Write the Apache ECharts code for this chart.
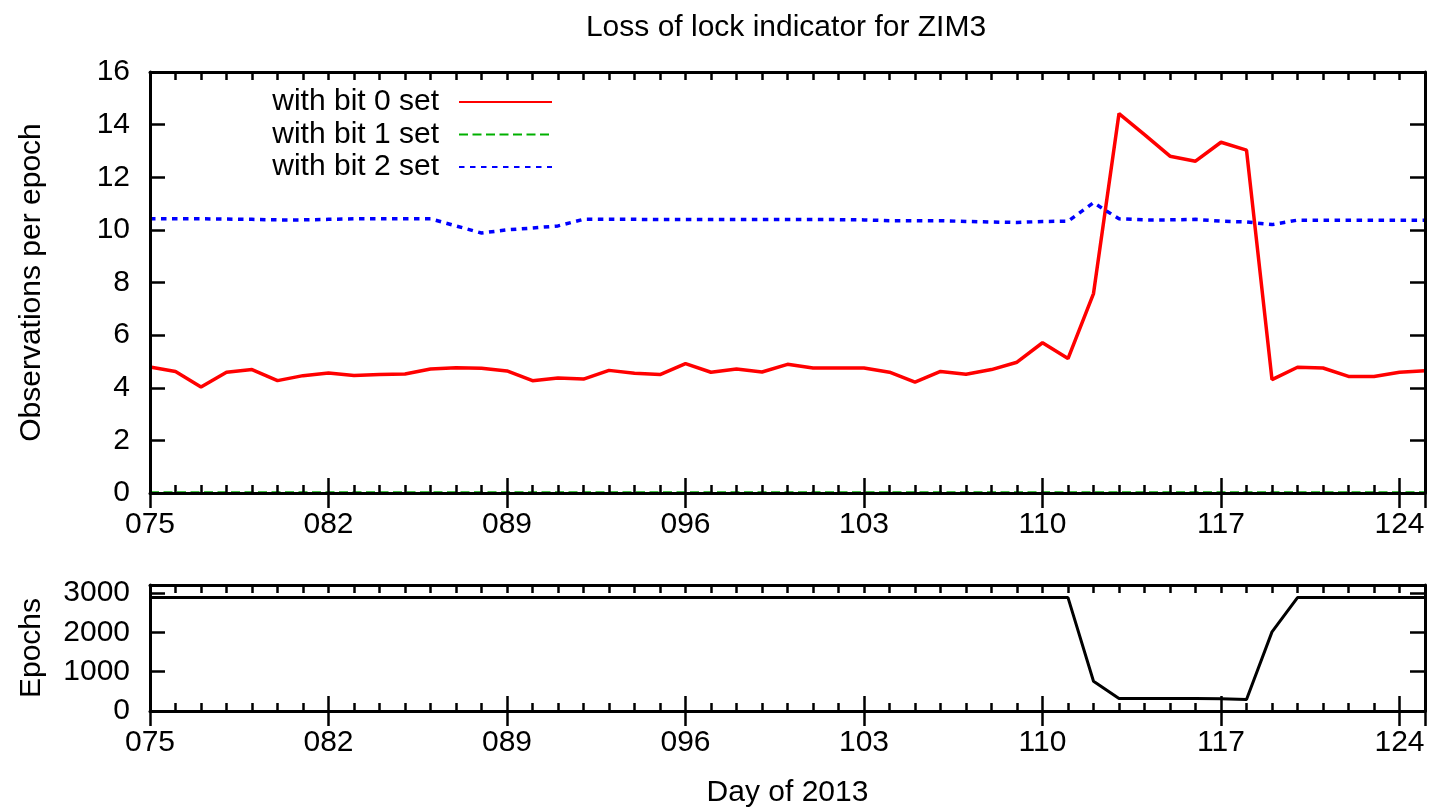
<!DOCTYPE html>
<html>
<head>
<meta charset="utf-8">
<script src="https://cdn.jsdelivr.net/npm/echarts@6/dist/echarts.min.js"></script>
<style>
  html, body { margin: 0; padding: 0; background: #ffffff; }
  #chart { width: 1433px; height: 807px; }
</style>
</head>
<body>
<div id="chart"></div>
<script>
// ---- data ----
const TITLE = 'Loss of lock indicator for ZIM3';
const X_NAME = 'Day of 2013';
const Y_NAME_TOP = 'Observations per epoch';
const Y_NAME_BOTTOM = 'Epochs';
const SERIES_NAMES = ['with bit 0 set', 'with bit 1 set', 'with bit 2 set'];

const DAYS = [75, 76, 77, 78, 79, 80, 81, 82, 83, 84,
              85, 86, 87, 88, 89, 90, 91, 92, 93, 94,
              95, 96, 97, 98, 99, 100, 101, 102, 103, 104,
              105, 106, 107, 108, 109, 110, 111, 112, 113, 114,
              115, 116, 117, 118, 119, 120, 121, 122, 123, 124, 125];

const BIT0 = [4.79, 4.62, 4.03, 4.59, 4.69, 4.27, 4.46, 4.56, 4.47, 4.50,
              4.52, 4.71, 4.76, 4.74, 4.64, 4.27, 4.37, 4.33, 4.66, 4.55,
              4.50, 4.92, 4.59, 4.71, 4.60, 4.89, 4.75, 4.75, 4.75, 4.59,
              4.21, 4.62, 4.51, 4.69, 4.97, 5.71, 5.11, 7.58, 14.42, 13.62,
              12.80, 12.61, 13.33, 13.03, 4.31, 4.78, 4.75, 4.43, 4.43, 4.59, 4.65];

const BIT1 = [0, 0, 0, 0, 0, 0, 0, 0, 0, 0,
              0, 0, 0, 0, 0, 0, 0, 0, 0, 0,
              0, 0, 0, 0, 0, 0, 0, 0, 0, 0,
              0, 0, 0, 0, 0, 0, 0, 0, 0, 0,
              0, 0, 0, 0, 0, 0, 0, 0, 0, 0, 0];

const BIT2 = [10.42, 10.42, 10.42, 10.41, 10.40, 10.38, 10.38, 10.40, 10.42, 10.42,
              10.42, 10.42, 10.15, 9.88, 10.00, 10.07, 10.15, 10.40, 10.40, 10.40,
              10.39, 10.39, 10.39, 10.39, 10.39, 10.39, 10.39, 10.39, 10.38, 10.35,
              10.35, 10.35, 10.32, 10.30, 10.28, 10.32, 10.33, 11.03, 10.42, 10.38,
              10.38, 10.40, 10.33, 10.30, 10.20, 10.37, 10.37, 10.37, 10.37, 10.37, 10.37];

const EPOCHS = [2880, 2880, 2880, 2880, 2880, 2880, 2880, 2880, 2880, 2880,
                2880, 2880, 2880, 2880, 2880, 2880, 2880, 2880, 2880, 2880,
                2880, 2880, 2880, 2880, 2880, 2880, 2880, 2880, 2880, 2880,
                2880, 2880, 2880, 2880, 2880, 2880, 2880, 756, 318, 316,
                316, 316, 312, 290, 2010, 2880, 2880, 2880, 2880, 2880, 2880];

const X_MIN = 75, X_MAX = 125, X_MAJOR = 7;
const Y_TOP = { min: 0, max: 16, interval: 2 };
const Y_BOT = { min: 0, max: 3200, interval: 1000 };

// ---- styling ----
const FONT = '"Liberation Sans", Arial, Helvetica, sans-serif';
const FS = 30;
const BLACK = '#000000';

function pad3(v) { return String(v).padStart(3, '0'); }

function xAxes(gridIndex, withLabels, name) {
  const base = {
    gridIndex, type: 'value', min: X_MIN, max: X_MAX, z: 5,
    splitLine: { show: false }
  };
  return [
    Object.assign({}, base, {
      position: 'bottom', interval: 1,
      name: name || '', nameLocation: 'middle', nameGap: 67,
      nameTextStyle: { fontFamily: FONT, fontSize: FS, color: BLACK },
      axisLine: { show: true, onZero: false, lineStyle: { color: BLACK, width: 3 } },
      axisTick: { show: true, inside: true, length: 8, lineStyle: { color: BLACK, width: 2.5 } },
      axisLabel: {
        show: withLabels, margin: 17, fontFamily: FONT, fontSize: FS, color: BLACK,
        showMaxLabel: false,
        formatter: v => ((v - X_MIN) % X_MAJOR === 0 ? pad3(v) : '')
      }
    }),
    Object.assign({}, base, {
      position: 'bottom', interval: X_MAJOR,
      axisLine: { show: false },
      axisTick: { show: true, inside: true, length: 15, lineStyle: { color: BLACK, width: 2.5 } },
      axisLabel: { show: false }
    }),
    Object.assign({}, base, {
      position: 'top', interval: 1,
      axisLine: { show: true, onZero: false, lineStyle: { color: BLACK, width: 3 } },
      axisTick: { show: true, inside: true, length: 8, lineStyle: { color: BLACK, width: 2.5 } },
      axisLabel: { show: false }
    }),
    Object.assign({}, base, {
      position: 'top', interval: X_MAJOR,
      axisLine: { show: false },
      axisTick: { show: true, inside: true, length: 15, lineStyle: { color: BLACK, width: 2.5 } },
      axisLabel: { show: false }
    })
  ];
}

function yAxes(gridIndex, range, name) {
  const base = {
    gridIndex, type: 'value', min: range.min, max: range.max, interval: range.interval, z: 5,
    splitLine: { show: false },
    axisLine: { show: true, onZero: false, lineStyle: { color: BLACK, width: 3 } },
    axisTick: { show: true, inside: true, length: 15, lineStyle: { color: BLACK, width: 2.5 } }
  };
  return [
    Object.assign({}, base, {
      position: 'left',
      name: name, nameLocation: 'middle', nameGap: 103,
      nameTextStyle: { fontFamily: FONT, fontSize: FS, color: BLACK },
      axisLabel: {
        show: true, margin: 20, fontFamily: FONT, fontSize: FS, color: BLACK,
        formatter: v => (v % range.interval === 0 ? String(v) : '')
      }
    }),
    Object.assign({}, base, {
      position: 'right',
      axisLabel: { show: false }
    })
  ];
}

const pairs = arr => DAYS.map((d, i) => [d, arr[i]]);

const chart = echarts.init(document.getElementById('chart'), null, { renderer: 'canvas' });

chart.setOption({
  backgroundColor: '#ffffff',
  animation: false,
  title: {
    text: TITLE, left: 786, top: 13, textAlign: 'center', padding: 0,
    textStyle: { fontFamily: FONT, fontSize: FS, fontWeight: 'normal', color: BLACK }
  },
  legend: {
    data: SERIES_NAMES,
    orient: 'vertical', align: 'right',
    right: 880, top: 87, padding: 0,
    itemWidth: 93, itemHeight: 14, itemGap: 2.5,
    itemStyle: { opacity: 0 },
    textStyle: { fontFamily: FONT, fontSize: FS, color: BLACK, lineHeight: 30, padding: [0, 15, 0, 0] }
  },
  grid: [
    { left: 150, right: 8, top: 72, height: 421, containLabel: false, outerBoundsMode: 'none' },
    { left: 150, right: 8, top: 585, height: 126, containLabel: false, outerBoundsMode: 'none' }
  ],
  xAxis: [].concat(xAxes(0, true, ''), xAxes(1, true, X_NAME)),
  yAxis: [].concat(yAxes(0, Y_TOP, Y_NAME_TOP), yAxes(1, Y_BOT, Y_NAME_BOTTOM)),
  series: [
    {
      name: SERIES_NAMES[0], type: 'line', xAxisIndex: 0, yAxisIndex: 0,
      data: pairs(BIT0), symbol: 'none', z: 3,
      color: '#ff0000', lineStyle: { color: '#ff0000', width: 3.5 }
    },
    {
      name: SERIES_NAMES[1], type: 'line', xAxisIndex: 0, yAxisIndex: 0,
      data: pairs(BIT1), symbol: 'none', z: 2,
      color: '#00b000', lineStyle: { color: '#00b000', width: 3.5, type: [9, 4.5] }
    },
    {
      name: SERIES_NAMES[2], type: 'line', xAxisIndex: 0, yAxisIndex: 0,
      data: pairs(BIT2), symbol: 'none', z: 3,
      color: '#0000ff', lineStyle: { color: '#0000ff', width: 3.5, type: [5.5, 5.5] }
    },
    {
      name: Y_NAME_BOTTOM, type: 'line', xAxisIndex: 4, yAxisIndex: 2,
      data: pairs(EPOCHS), symbol: 'none', z: 3,
      color: BLACK, lineStyle: { color: BLACK, width: 3 }
    }
  ]
});
</script>
</body>
</html>
